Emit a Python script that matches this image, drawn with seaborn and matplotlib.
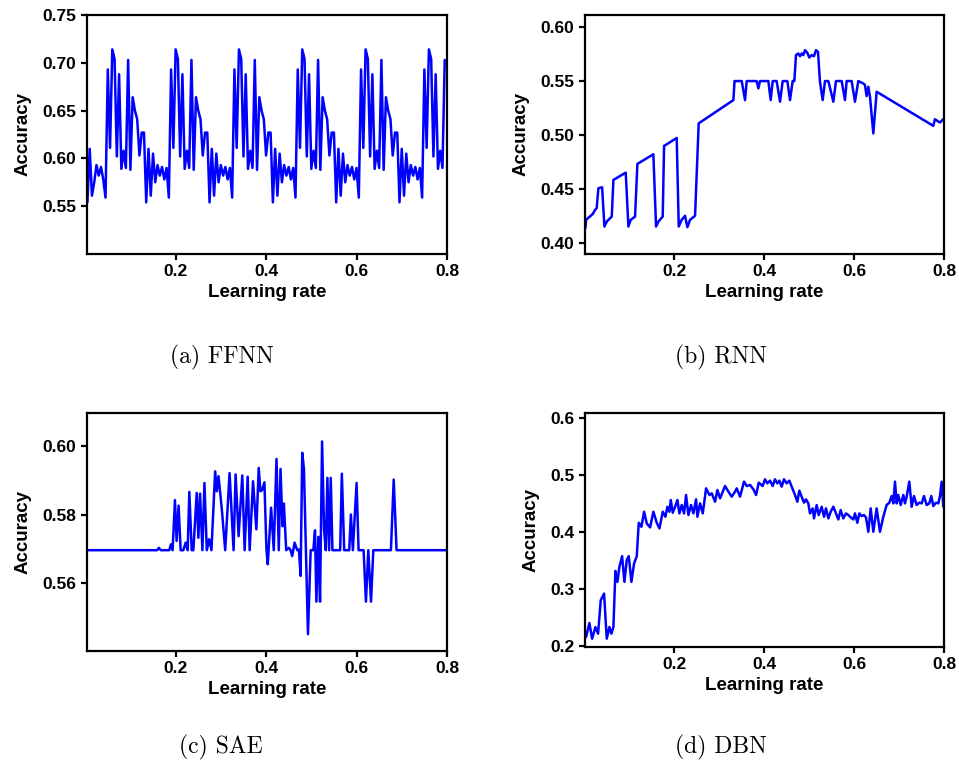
import numpy as np
import pandas as pd
import matplotlib
matplotlib.use("Agg")
import matplotlib.pyplot as plt
import seaborn as sns

# (a) FFNN - learning rate grid and accuracy
ffnn_lr = [0.005, 0.01, 0.015, 0.02, 0.025, 0.03, 0.035, 0.04, 0.045, 0.05,
           0.055, 0.06, 0.065, 0.07, 0.075, 0.08, 0.085, 0.09, 0.095, 0.1,
           0.105, 0.11, 0.115, 0.12, 0.125, 0.13, 0.135, 0.14, 0.145, 0.15,
           0.155, 0.16, 0.165, 0.17, 0.175, 0.18, 0.185, 0.19, 0.195, 0.2,
           0.205, 0.21, 0.215, 0.22, 0.225, 0.23, 0.235, 0.24, 0.245, 0.25,
           0.255, 0.26, 0.265, 0.27, 0.275, 0.28, 0.285, 0.29, 0.295, 0.3,
           0.305, 0.31, 0.315, 0.32, 0.325, 0.33, 0.335, 0.34, 0.345, 0.35,
           0.355, 0.36, 0.365, 0.37, 0.375, 0.38, 0.385, 0.39, 0.395, 0.4,
           0.405, 0.41, 0.415, 0.42, 0.425, 0.43, 0.435, 0.44, 0.445, 0.45,
           0.455, 0.46, 0.465, 0.47, 0.475, 0.48, 0.485, 0.49, 0.495, 0.5,
           0.505, 0.51, 0.515, 0.52, 0.525, 0.53, 0.535, 0.54, 0.545, 0.55,
           0.555, 0.56, 0.565, 0.57, 0.575, 0.58, 0.585, 0.59, 0.595, 0.6,
           0.605, 0.61, 0.615, 0.62, 0.625, 0.63, 0.635, 0.64, 0.645, 0.65,
           0.655, 0.66, 0.665, 0.67, 0.675, 0.68, 0.685, 0.69, 0.695, 0.7,
           0.705, 0.71, 0.715, 0.72, 0.725, 0.73, 0.735, 0.74, 0.745, 0.75,
           0.755, 0.76, 0.765, 0.77, 0.775, 0.78, 0.785, 0.79, 0.795]
ffnn_acc = [0.554, 0.610, 0.561, 0.575, 0.593, 0.582, 0.591, 0.578, 0.559, 0.693,
            0.611, 0.714, 0.704, 0.602, 0.688, 0.589, 0.608, 0.590, 0.703, 0.588,
            0.664, 0.650, 0.641, 0.603, 0.627, 0.627,
            0.554, 0.610, 0.561, 0.605, 0.575, 0.593, 0.582, 0.591, 0.578, 0.590,
            0.559, 0.693, 0.611, 0.714, 0.704, 0.602, 0.688, 0.589, 0.608, 0.590,
            0.703, 0.588, 0.664, 0.650, 0.641, 0.603, 0.627, 0.627,
            0.554, 0.610, 0.561, 0.605, 0.575, 0.593, 0.582, 0.591, 0.578, 0.590,
            0.559, 0.693, 0.611, 0.714, 0.704, 0.602, 0.688, 0.589, 0.608, 0.590,
            0.703, 0.588, 0.664, 0.650, 0.641, 0.603, 0.627, 0.627,
            0.554, 0.610, 0.561, 0.605, 0.575, 0.593, 0.582, 0.591, 0.578, 0.590,
            0.559, 0.693, 0.611, 0.714, 0.704, 0.602, 0.688, 0.589, 0.608, 0.590,
            0.703, 0.588, 0.664, 0.650, 0.641, 0.603, 0.627, 0.627,
            0.554, 0.610, 0.561, 0.605, 0.575, 0.593, 0.582, 0.591, 0.578, 0.590,
            0.559, 0.693, 0.611, 0.714, 0.704, 0.602, 0.688, 0.589, 0.608, 0.590,
            0.703, 0.588, 0.664, 0.650, 0.641, 0.603, 0.627, 0.627,
            0.554, 0.610, 0.561, 0.605, 0.575, 0.593, 0.582, 0.591, 0.578, 0.590,
            0.559, 0.693, 0.611, 0.714, 0.704, 0.602, 0.688, 0.589, 0.608, 0.590,
            0.703]

# (b) RNN
rnn_lr = [0.003, 0.0044, 0.0193, 0.0244, 0.028, 0.0318, 0.04, 0.0452, 0.0504, 0.0615,
          0.0652, 0.0926, 0.0985, 0.1037, 0.1133, 0.1185, 0.154, 0.16, 0.1652, 0.1748,
          0.1778, 0.2059, 0.2104, 0.217, 0.2244, 0.2296, 0.2356, 0.2467, 0.2548, 0.3319,
          0.3345, 0.3504, 0.3578, 0.3615, 0.3837, 0.3874, 0.3911, 0.4096, 0.4148, 0.4193,
          0.4281, 0.4356, 0.4415, 0.4519, 0.4578, 0.4637, 0.4674, 0.4711, 0.4763, 0.48,
          0.4837, 0.4874, 0.4911, 0.4963, 0.5007, 0.5059, 0.5111, 0.5156, 0.52, 0.5244,
          0.5304, 0.5356, 0.543, 0.5541, 0.56, 0.5726, 0.58, 0.5837, 0.5948, 0.6022,
          0.6096, 0.6207, 0.6244, 0.6281, 0.6319, 0.6356, 0.643, 0.6504, 0.7763, 0.78,
          0.7874, 0.7911, 0.7985, 0.8]
rnn_acc = [0.414, 0.4216, 0.427, 0.4308, 0.4324, 0.4508, 0.4517, 0.4154, 0.42, 0.4246,
           0.4585, 0.4652, 0.4154, 0.4216, 0.4246, 0.4733, 0.4822, 0.4154, 0.42, 0.4246,
           0.4899, 0.4973, 0.4154, 0.4216, 0.4253, 0.4148, 0.4216, 0.4253, 0.5108, 0.5323,
           0.5499, 0.5499, 0.5323, 0.5499, 0.5499, 0.5431, 0.5499, 0.5499, 0.5323, 0.5499,
           0.5499, 0.5308, 0.5499, 0.5499, 0.5323, 0.5499, 0.5499, 0.5739, 0.5754, 0.5729,
           0.5754, 0.5739, 0.5785, 0.576, 0.5717, 0.5739, 0.5729, 0.5785, 0.5769, 0.5492,
           0.5323, 0.5499, 0.5499, 0.5308, 0.5499, 0.5499, 0.5323, 0.5499, 0.5499, 0.5308,
           0.5499, 0.5477, 0.5462, 0.536, 0.5446, 0.5354, 0.5015, 0.54, 0.5085, 0.5146,
           0.5125, 0.5116, 0.5146, 0.5146]

# (c) SAE
sae_lr = [0.005, 0.1592, 0.1629, 0.1673, 0.1859, 0.1896, 0.1933, 0.1985, 0.2022, 0.2066,
          0.2111, 0.217, 0.2222, 0.2266, 0.2303, 0.2355, 0.2392, 0.2466, 0.2503, 0.254,
          0.2592, 0.2637, 0.2689, 0.2741, 0.2792, 0.2874, 0.2911, 0.2948, 0.3022, 0.3096,
          0.3193, 0.3281, 0.3326, 0.3393, 0.3474, 0.3526, 0.3593, 0.3637, 0.3711, 0.3785,
          0.3837, 0.3874, 0.3911, 0.3963, 0.4008, 0.4037, 0.4111, 0.417, 0.423, 0.4281,
          0.4319, 0.4363, 0.4393, 0.4445, 0.4504, 0.4541, 0.4578, 0.463, 0.4689, 0.4726,
          0.4763, 0.48, 0.4837, 0.4926, 0.4986, 0.5045, 0.5082, 0.5112, 0.5156, 0.5193,
          0.5238, 0.5282, 0.5319, 0.5356, 0.5393, 0.543, 0.5467, 0.5638, 0.5675, 0.5727,
          0.5838, 0.5875, 0.5919, 0.6001, 0.6045, 0.6156, 0.6208, 0.626, 0.632, 0.6371,
          0.676, 0.6822, 0.6885, 0.8]
sae_acc = [0.5697, 0.5697, 0.5704, 0.5697, 0.5697, 0.5714, 0.5697, 0.5843, 0.5724, 0.5827,
           0.5697, 0.5697, 0.5719, 0.5697, 0.5867, 0.5697, 0.5697, 0.5864, 0.5733, 0.5862,
           0.5697, 0.5893, 0.5697, 0.5729, 0.5697, 0.5927, 0.5869, 0.5913, 0.5816, 0.5697,
           0.5922, 0.5697, 0.5918, 0.5738, 0.5915, 0.5697, 0.5911, 0.5697, 0.5898, 0.5758,
           0.5937, 0.5869, 0.5872, 0.5895, 0.5699, 0.5656, 0.5821, 0.5697, 0.5963, 0.5697,
           0.5934, 0.5767, 0.5833, 0.5697, 0.5704, 0.5697, 0.5680, 0.5719, 0.5697, 0.5699,
           0.5622, 0.5981, 0.5934, 0.5452, 0.5697, 0.5697, 0.5755, 0.5547, 0.5736, 0.5547,
           0.6014, 0.5758, 0.5697, 0.5908, 0.5697, 0.5908, 0.5697, 0.5697, 0.5920, 0.5697,
           0.5697, 0.5801, 0.5697, 0.5893, 0.5697, 0.5697, 0.5547, 0.5697, 0.5547, 0.5697,
           0.5697, 0.5903, 0.5697, 0.5697]

# (d) DBN
dbn_lr = [0.0044, 0.0118, 0.0178, 0.0252, 0.0311, 0.037, 0.0444, 0.0504, 0.0563, 0.0607,
          0.0652, 0.0696, 0.0741, 0.0785, 0.0845, 0.0896, 0.0948, 0.0993, 0.1052, 0.1111,
          0.1171, 0.1215, 0.1274, 0.1334, 0.1393, 0.1467, 0.1541, 0.1615, 0.1675, 0.1749,
          0.1808, 0.1852, 0.1897, 0.1927, 0.1971, 0.2023, 0.2075, 0.2119, 0.2171, 0.2223,
          0.2267, 0.2319, 0.2378, 0.243, 0.2489, 0.2519, 0.2578, 0.2638, 0.2712, 0.2786,
          0.2838, 0.2912, 0.2964, 0.3023, 0.3134, 0.3208, 0.3282, 0.3356, 0.3393, 0.3467,
          0.3556, 0.3616, 0.369, 0.3764, 0.3823, 0.3883, 0.397, 0.4022, 0.4074, 0.4133,
          0.4193, 0.4244, 0.4296, 0.4341, 0.4393, 0.4444, 0.4504, 0.4563, 0.4615, 0.4689,
          0.4741, 0.4785, 0.4837, 0.4889, 0.4933, 0.4985, 0.5022, 0.5082, 0.5111, 0.5171,
          0.5215, 0.5282, 0.5334, 0.5378, 0.543, 0.5482, 0.5541, 0.56, 0.5652, 0.5704,
          0.5763, 0.5823, 0.5875, 0.5927, 0.5986, 0.6022, 0.6075, 0.6119, 0.6171, 0.6223,
          0.6267, 0.6319, 0.6371, 0.643, 0.6504, 0.6578, 0.6652, 0.6726, 0.6786, 0.6838,
          0.6875, 0.6912, 0.6949, 0.6986, 0.7038, 0.7097, 0.7134, 0.7171, 0.723, 0.7282,
          0.7334, 0.7393, 0.7452, 0.7504, 0.7556, 0.7615, 0.7675, 0.7719, 0.7764, 0.7823,
          0.7875, 0.7912, 0.7949, 0.7986]
dbn_acc = [0.2155, 0.2402, 0.2126, 0.2331, 0.2214, 0.2801, 0.2918, 0.2126, 0.2331, 0.2214,
           0.2331, 0.3317, 0.3124, 0.3388, 0.3576, 0.3124, 0.3505, 0.3576, 0.3124, 0.3446,
           0.3576, 0.4163, 0.4092, 0.4356, 0.4151, 0.4081, 0.4356, 0.4163, 0.4063, 0.4356,
           0.4268, 0.4444, 0.4356, 0.4562, 0.4339, 0.4444, 0.4562, 0.4327, 0.4474, 0.4327,
           0.465, 0.4298, 0.4474, 0.4327, 0.4574, 0.4268, 0.4503, 0.4327, 0.4767, 0.465,
           0.4679, 0.4532, 0.4738, 0.4591, 0.4808, 0.4709, 0.4621, 0.4709, 0.4767, 0.4621,
           0.4885, 0.4808, 0.4826, 0.475, 0.465, 0.4867, 0.4808, 0.4926, 0.4855, 0.4902,
           0.4808, 0.4926, 0.4855, 0.4902, 0.4796, 0.4926, 0.4855, 0.4902, 0.4796, 0.465,
           0.4532, 0.4726, 0.462, 0.4515, 0.4573, 0.4503, 0.4327, 0.4415, 0.4239, 0.4474,
           0.4298, 0.4444, 0.4268, 0.4415, 0.4239, 0.4356, 0.4444, 0.4327, 0.4221, 0.4386,
           0.4239, 0.4327, 0.4298, 0.4256, 0.4221, 0.4327, 0.4163, 0.4327, 0.428, 0.4298,
           0.4256, 0.4004, 0.4415, 0.4004, 0.4415, 0.4004, 0.4268, 0.4474, 0.4515, 0.4632,
           0.4503, 0.4884, 0.4503, 0.465, 0.4474, 0.465, 0.4503, 0.462, 0.4884, 0.4444,
           0.4632, 0.4474, 0.4515, 0.4503, 0.4632, 0.4474, 0.4503, 0.4632, 0.4456, 0.4515,
           0.4503, 0.4632, 0.4884, 0.4444]

sns.set_style("ticks")
plt.rcParams["font.family"] = ["Liberation Sans", "DejaVu Sans"]
plt.rcParams["font.weight"] = "bold"
plt.rcParams["axes.labelweight"] = "bold"
plt.rcParams["text.color"] = "black"
plt.rcParams["axes.labelcolor"] = "black"
plt.rcParams["xtick.color"] = "black"
plt.rcParams["ytick.color"] = "black"

fig = plt.figure(figsize=(9.59, 7.72), dpi=100)

panels = [
    (ffnn_lr, ffnn_acc, [0.0907, 0.671, 0.3754, 0.3096], (0.004, 0.8), (0.5, 0.75),
     [0.55, 0.60, 0.65, 0.70, 0.75], "%.2f", "(a) FFNN", (0.2315, 0.5376)),
    (rnn_lr, rnn_acc, [0.61, 0.671, 0.3743, 0.3096], (0.002, 0.8), (0.39, 0.611),
     [0.40, 0.45, 0.50, 0.55, 0.60], "%.2f", "(b) RNN", (0.752, 0.5376)),
    (sae_lr, sae_acc, [0.0907, 0.1567, 0.3754, 0.3083], (0.004, 0.8), (0.5403, 0.6097),
     [0.56, 0.58, 0.60], "%.2f", "(c) SAE", (0.2305, 0.0324)),
    (dbn_lr, dbn_acc, [0.61, 0.1619, 0.3743, 0.3031], (0.002, 0.8), (0.198, 0.609),
     [0.2, 0.3, 0.4, 0.5, 0.6], "%.1f", "(d) DBN", (0.752, 0.0324)),
]

for lr, acc, pos, xl, yl, yt, fmt, cap, cpos in panels:
    ax = fig.add_axes(pos)
    df = pd.DataFrame({"Learning rate": lr, "Accuracy": acc})
    sns.lineplot(data=df, x="Learning rate", y="Accuracy", ax=ax, color="#0000ff",
                 linewidth=1.8, estimator=None, sort=False)
    ax.set_xlim(*xl)
    ax.set_ylim(*yl)
    ax.set_xticks([0.2, 0.4, 0.6, 0.8])
    ax.set_yticks(yt)
    ax.yaxis.set_major_formatter(matplotlib.ticker.FormatStrFormatter(fmt))
    ax.xaxis.set_major_formatter(matplotlib.ticker.FormatStrFormatter("%.1f"))
    for s in ax.spines.values():
        s.set_linewidth(1.6)
        s.set_color("black")
    ax.tick_params(direction="out", length=4, width=1.6, labelsize=12.5, colors="black")
    ax.set_xlabel("Learning rate", fontsize=13.5, labelpad=3, color="black")
    ax.set_ylabel("Accuracy", fontsize=13.5, labelpad=8, color="black")
    fig.text(cpos[0], cpos[1], cap, family="cmr10", fontsize=17, weight="normal",
             ha="center", va="center", color="black")

fig.savefig("out.png", dpi=100)
